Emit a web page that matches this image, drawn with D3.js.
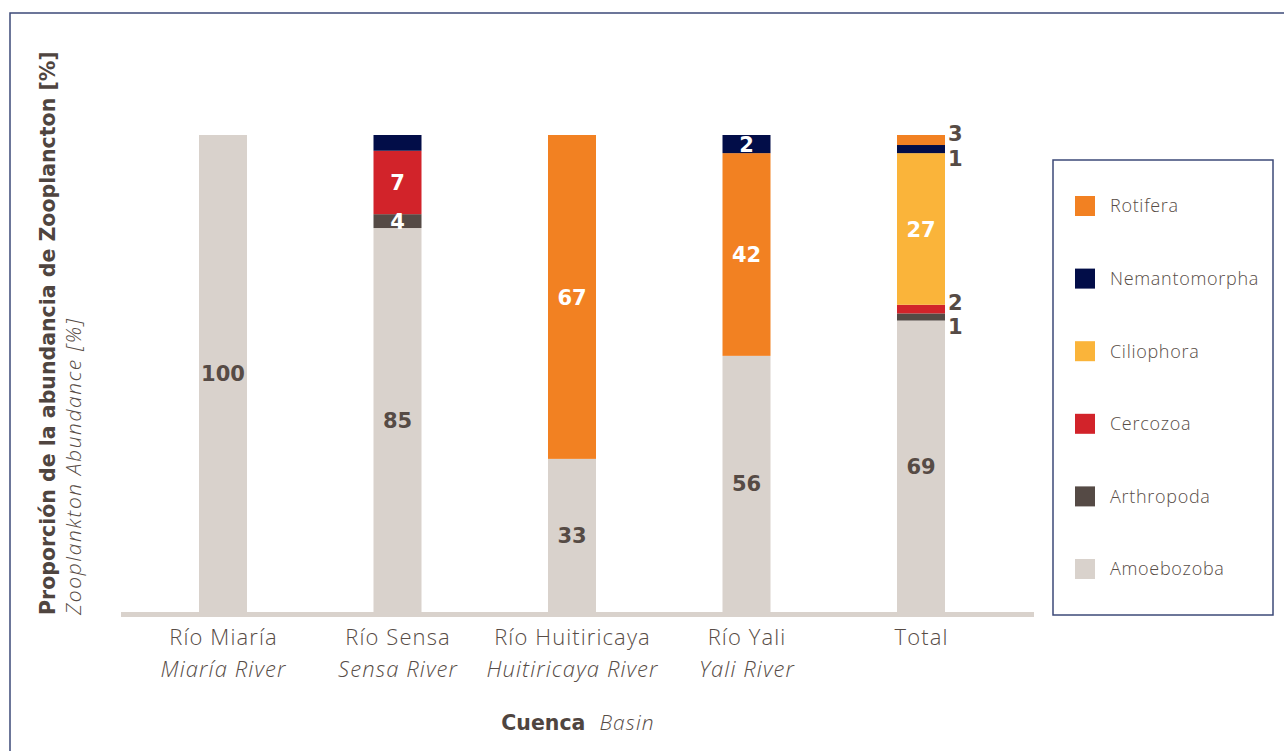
<!DOCTYPE html>
<html>
<head>
<meta charset="utf-8">
<script src="https://cdn.jsdelivr.net/npm/d3@7"></script>
<style>
  html, body { margin: 0; padding: 0; background: #ffffff; }
  svg { display: block; }
</style>
</head>
<body>
<svg id="chart" width="1284" height="751"></svg>
<script>
// ---------- data ----------
const categories   = ["Río Miaría", "Río Sensa", "Río Huitiricaya", "Río Yali", "Total"];
const categoriesEn = ["Miaría River", "Sensa River", "Huitiricaya River", "Yali River", ""];

const seriesNames = ["Amoebozoba", "Arthropoda", "Cercozoa", "Ciliophora", "Nemantomorpha", "Rotifera"];

// segment sizes as drawn (share of bar, %)
const amoebozoba    = [100, 80.5, 32.1, 53.7, 61.1];
const arthropoda    = [0,   2.9,  0,    0,    1.5];
const cercozoa      = [0,   13.3, 0,    0,    1.8];
const ciliophora    = [0,   0,    0,    0,    31.8];
const nemantomorpha = [0,   3.3,  0,    3.8,  1.7];
const rotifera      = [0,   0,    67.9, 42.5, 2.1];

// value labels printed on the chart
const amoebozobaLabels    = ["100", "85", "33", "56", "69"];
const arthropodaLabels    = ["",    "4",  "",   "",   "1"];
const cercozoaLabels      = ["",    "7",  "",   "",   "2"];
const ciliophoraLabels    = ["",    "",   "",   "",   "27"];
const nemantomorphaLabels = ["",    "",   "",   "2",  "1"];
const rotiferaLabels      = ["",    "",   "67", "42", "3"];

// stacking order (bottom to top) used in each bar
const defaultOrder = ["Amoebozoba", "Arthropoda", "Cercozoa", "Ciliophora", "Nemantomorpha", "Rotifera"];
const yaliOrder    = ["Amoebozoba", "Arthropoda", "Cercozoa", "Ciliophora", "Rotifera", "Nemantomorpha"];
const stackOrders  = [defaultOrder, defaultOrder, defaultOrder, yaliOrder, defaultOrder];

const seriesColors = ["#d9d2cc", "#554a45", "#d2232a", "#fab43a", "#020d48", "#f28122"];

// ---------- build table ----------
const seriesValues = [amoebozoba, arthropoda, cercozoa, ciliophora, nemantomorpha, rotifera];
const seriesLabels = [amoebozobaLabels, arthropodaLabels, cercozoaLabels, ciliophoraLabels, nemantomorphaLabels, rotiferaLabels];
const table = categories.map((c, i) => {
  const row = { category: c };
  seriesNames.forEach((s, j) => { row[s] = seriesValues[j][i]; });
  return row;
});

// one stack per bar, each with its own order
const segments = [];
table.forEach((row, i) => {
  const order = stackOrders[i];
  const st = d3.stack().keys(order)([row]);
  st.forEach((layer, k) => {
    const j = seriesNames.indexOf(layer.key);
    const p = layer[0];
    if (p[1] - p[0] <= 0) return;
    const nextKey = order[k + 1];
    const nextVal = nextKey ? row[nextKey] : 0;
    segments.push({
      key: layer.key, ci: i, category: row.category,
      y0: p[0], y1: p[1], value: row[layer.key],
      label: seriesLabels[j][i], aboveValue: nextVal
    });
  });
});

// ---------- layout ----------
const svg = d3.select("#chart");
const textColor = "#574c46";
const frameColor = "#3d4a78";
const sansFont = "'Open Sans', 'DejaVu Sans', sans-serif";
const boldFont = "'DejaVu Sans', sans-serif";

const x = d3.scalePoint().domain(categories).range([223, 921]);
const y = d3.scaleLinear().domain([0, 100]).range([612, 135]);
const barW = 48;
const color = d3.scaleOrdinal().domain(seriesNames).range(seriesColors);

// outer frame (continues past the window)
svg.append("rect")
  .attr("x", 10).attr("y", 13)
  .attr("width", 1400).attr("height", 900)
  .attr("fill", "none").attr("stroke", frameColor).attr("stroke-width", 1.5);

// bars
svg.append("g").selectAll("rect")
  .data(segments).join("rect")
  .attr("x", d => x(d.category) - barW / 2)
  .attr("width", barW)
  .attr("y", d => y(d.y1))
  .attr("height", d => y(d.y0) - y(d.y1))
  .attr("fill", d => color(d.key));

// baseline axis
const xAxis = d3.axisBottom(x).tickSize(0).tickFormat("");
const axisG = svg.append("g").attr("transform", `translate(0,${y(0) + 2.5})`).call(xAxis);
axisG.select(".domain").remove();
axisG.append("line")
  .attr("x1", 121).attr("x2", 1034)
  .attr("stroke", "#d9d2cc").attr("stroke-width", 5);

// category labels
axisG.selectAll(".tick").each(function (d, i) {
  const g = d3.select(this);
  g.selectAll("text").remove();
  g.append("text")
    .attr("y", 30).attr("text-anchor", "middle")
    .attr("fill", textColor).attr("font-family", sansFont)
    .attr("font-size", 22).attr("font-weight", 300)
    .attr("letter-spacing", 1.1)
    .text(categories[i]);
  if (categoriesEn[i]) {
    g.append("text")
      .attr("y", 62).attr("text-anchor", "middle")
      .attr("fill", textColor).attr("font-family", sansFont)
      .attr("font-size", 22).attr("font-weight", 300).attr("font-style", "italic")
      .attr("letter-spacing", 1.1)
      .text(categoriesEn[i]);
  }
});

// value labels
svg.append("g").selectAll("text")
  .data(segments.filter(d => d.label))
  .join("text")
  .each(function (d) {
    const outside = d.category === "Total" && d.value < 5;
    const mid = (y(d.y0) + y(d.y1)) / 2;
    const t = d3.select(this);
    if (outside) {
      const aboveSmall = d.aboveValue > 0 && d.aboveValue < 5;
      t.attr("x", x(d.category) + barW / 2 + 3)
       .attr("y", mid + (aboveSmall ? 9 : -7))
       .attr("text-anchor", "start")
       .attr("fill", "#564b45");
    } else {
      t.attr("x", x(d.category))
       .attr("y", mid)
       .attr("text-anchor", "middle")
       .attr("fill", d.key === "Amoebozoba" ? "#564b45" : "#ffffff");
    }
  })
  .attr("dy", "0.36em")
  .attr("font-family", boldFont).attr("font-weight", "bold")
  .attr("font-size", 21)
  .text(d => d.label);

// y-axis titles
svg.append("text")
  .attr("transform", "translate(55,615) rotate(-90)")
  .attr("fill", "#4f4540").attr("font-family", boldFont)
  .attr("font-weight", "bold").attr("font-size", 20.5)
  .text("Proporción de la abundancia de Zooplancton [%]");
svg.append("text")
  .attr("transform", "translate(81,615) rotate(-90)")
  .attr("fill", textColor).attr("font-family", sansFont)
  .attr("font-style", "italic").attr("font-weight", 300).attr("font-size", 21)
  .attr("letter-spacing", 1.6)
  .text("Zooplankton Abundance [%]");

// x-axis title
const xt = svg.append("text")
  .attr("x", 578).attr("y", 730).attr("text-anchor", "middle")
  .attr("font-size", 21).attr("fill", textColor);
xt.append("tspan").attr("font-family", boldFont).attr("font-weight", "bold").attr("font-size", 20.5)
  .attr("fill", "#4f4540").text("Cuenca");
xt.append("tspan").attr("dx", 14).attr("font-family", sansFont).attr("font-style", "italic")
  .attr("font-weight", 300).attr("letter-spacing", 1.1).text("Basin");

// legend
const legend = svg.append("g");
legend.append("rect")
  .attr("x", 1053).attr("y", 160).attr("width", 220).attr("height", 455)
  .attr("fill", "#ffffff").attr("stroke", frameColor).attr("stroke-width", 1.5);
const legendOrder = seriesNames.slice().reverse();
const ly = d3.scalePoint().domain(legendOrder).range([206, 569]);
const items = legend.selectAll("g.item").data(legendOrder).join("g")
  .attr("class", "item")
  .attr("transform", d => `translate(1075,${ly(d)})`);
items.append("rect")
  .attr("x", 0).attr("y", -10).attr("width", 20).attr("height", 20)
  .attr("fill", d => color(d));
items.append("text")
  .attr("x", 35).attr("y", 0).attr("dy", "0.35em")
  .attr("fill", textColor).attr("font-family", sansFont)
  .attr("font-size", 18).attr("font-weight", 300).attr("letter-spacing", 0.7)
  .text(d => d);
</script>
</body>
</html>
